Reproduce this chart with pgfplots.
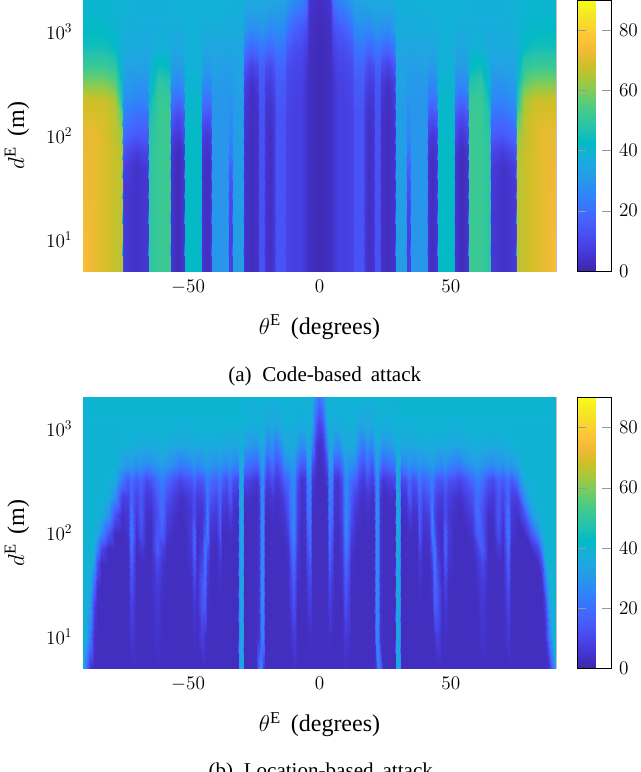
\documentclass[border=0pt]{standalone}
\usepackage[no-math]{fontspec}
\setmainfont{Liberation Serif}
\usepackage{pgfplots}
\usepackage{pgfplotstable}
\pgfplotsset{compat=1.18}

% parula, sampled from the 64 entry table
\pgfplotsset{colormap={parula}{
  rgb(0pt)=(0.2422,0.1504,0.6603); rgb(3pt)=(0.2647,0.1978,0.7952);
  rgb(6pt)=(0.2783,0.2559,0.8991); rgb(9pt)=(0.2810,0.3228,0.9579);
  rgb(12pt)=(0.2699,0.3892,0.9906); rgb(15pt)=(0.2206,0.4603,0.9973);
  rgb(18pt)=(0.1786,0.5289,0.9682); rgb(21pt)=(0.1540,0.5902,0.9218);
  rgb(24pt)=(0.1248,0.6459,0.8883); rgb(27pt)=(0.0689,0.6948,0.8394);
  rgb(30pt)=(0.0067,0.7312,0.7660); rgb(33pt)=(0.1408,0.7584,0.6842);
  rgb(36pt)=(0.2161,0.7843,0.5923); rgb(39pt)=(0.3406,0.8008,0.4789);
  rgb(42pt)=(0.5044,0.7993,0.3480); rgb(45pt)=(0.6720,0.7793,0.2227);
  rgb(48pt)=(0.8203,0.7498,0.1535); rgb(51pt)=(0.9393,0.7288,0.2100);
  rgb(54pt)=(0.9970,0.7659,0.2199); rgb(57pt)=(0.9786,0.8386,0.1766);
  rgb(60pt)=(0.9597,0.9135,0.1423); rgb(63pt)=(0.9769,0.9839,0.0805)}}

% theta (half range, both panels are mirror images about 0) against d
\pgfplotstableread{
x d5 d10 d20 d30 d50 d70 d100 d150 d220 d320 d450 d700 d1100 d2000
0    2 2 2 2 2 2 2 2 2 2 2 2 2 3
4    3 3 3 3 3 3 3 3 3 3 3 3 4 5
5.2  5 5 5 5 5 5 5 5 5 5 6 8 12 20
7    8 8 8 8 8 8 8 8 8 8 9 11 15 25
10   8 8 8 8 8 8 8 8 8 9 10 12 17 27
12.6 9 9 9 9 9 9 9 9 10 11 12 16 23 32
13.2 13 13 13 13 13 13 13 13 14 15 17 21 27 34
16.7 13 13 13 13 13 13 13 13 14 15 17 22 28 34
17.3 6 6 6 6 6 6 6 6 8 10 13 20 28 35
19   3 3 3 3 3 3 3 4 5 7 10 18 27 35
20.9 5 5 5 5 5 5 5 5 6 8 12 20 29 36
21.3 13 13 13 13 13 13 13 13 14 14 16 22 30 36
22.9 12 12 12 12 12 12 12 12 13 14 16 22 30 36
23.3 4 4 4 4 4 4 4 4 5 7 11 20 29 36
26   3 3 3 3 3 3 3 3 3 4 8 18 28 36
28.4 4 4 4 4 4 4 4 5 6 8 13 23 31 36
28.8 6 6 6 6 6 6 6 7 8 10 15 25 32 37
29.2 33 33 33 33 33 33 33 33 33 34 34 35 37 38
33   32 32 32 32 32 32 32 32 32 33 33 35 37 38
33.3 8 8 10 12 16 22 25 27 29 31 32 34 36 38
34.4 8 8 10 12 16 22 25 27 29 31 32 34 36 38
34.8 30 30 30 30 30 30 30 30 30 31 32 35 37 38
41   30 30 30 30 30 30 30 30 30 31 33 35 37 39
41.4 5 5 5 5 5 6 8 14 21 27 31 35 37 39
43   3 3 3 3 3 4 6 12 20 26 31 35 37 39
44.6 5 5 5 5 5 6 8 14 22 28 32 35 37 39
45   42 42 42 42 42 42 42 41 41 40 39 38 38 39
51   43 43 43 43 43 43 42 42 41 40 39 38 38 39
51.4 5 5 5 5 5 6 10 14 22 28 32 35 37 39
54   2 2 2 2 2 2 5 10 18 26 31 35 37 39
56.6 5 5 5 5 5 6 9 14 22 28 32 35 37 39
57   52 52 52 52 52 52 52 52 51 47 42 38 37 38
61   52 52 52 52 52 52 52 52 52 50 45 39 37 38
65   49 49 49 49 49 49 48 46 43 39 37 35 37 38
65.4 6 6 6 6 7 10 15 20 26 30 33 36 37 38
70   4 4 4 4 4 7 14 19 25 29 33 36 37 38
74.3 6 6 6 6 8 12 18 24 28 32 34 37 38 39
74.7 10 10 10 10 12 16 22 28 32 34 36 38 38 39
75.1 66 66 66 66 66 65 62 56 47 42 38 37 38 39
78   67 67 67 67 67 67 66 66 64 56 50 43 40 39
82   70 70 70 70 70 70 70 69 68 60 52 45 42 40
86   72 72 72 72 72 72 72 70 68 60 52 45 42 40
90   76 75 74 73 73 72 72 70 68 60 52 45 42 40
}\tabCode

\pgfplotstableread{
x d5 d10 d20 d30 d50 d70 d100 d150 d220 d320 d450 d700 d1100 d2000
0    3 3 3 3 3 3 3 3 3 3 3 4 8 20
1.5  3 3 3 3 3 3 3 3 3 3 4 6 14 28
3    3 3 3 3 3 3 3 3 4 6 12 24 34 38
3.8  3 4 8 10 14 18 20 22 24 26 31 36 38 39
4.6  3 3 5 6 9 11 14 18 20 24 30 35 38 39
5.5  3 3 3 3 3 3 4 4 5 6 14 29 36 39
7    3 3 3 3 3 3 3 4 4 5 14 27 36 39
8.5  3 3 3 4 5 6 7 9 10 12 20 33 37 39
9.6  4 7 12 14 18 22 25 26 26 27 32 36 38 39
10.6 3 5 10 12 16 20 24 24 25 26 31 36 38 39
12   3 3 3 3 4 5 8 12 15 19 28 36 38 39
13.5 3 3 3 3 3 3 4 5 9 16 26 35 38 39
15   3 3 3 3 3 3 3 4 5 9 16 27 35 39
16.5 3 3 3 3 3 3 3 3 4 6 12 21 34 39
18.2 3 3 3 3 3 3 3 4 6 12 20 29 36 39
20   3 3 3 3 3 3 3 3 4 7 13 25 34 39
20.9 3 3 3 3 3 3 3 4 6 12 22 31 37 39
21.4 8 26 27 27 27 27 27 27 27 27 31 36 38 39
22.1 26 22 26 26 26 26 26 26 26 26 31 36 38 39
22.9 20 5 5 5 5 5 5 5 6 10 22 33 38 39
24   3 3 3 3 3 3 3 3 3 5 16 29 37 39
26   3 3 3 3 3 3 3 3 4 8 18 31 38 39
28.6 3 3 3 3 3 3 3 3 4 10 22 33 38 39
29.1 32 32 32 32 32 32 32 32 32 32 36 38 39 40
29.8 37 36 36 36 36 36 36 36 36 36 37 38 39 40
30.5 30 28 28 28 28 28 28 28 28 28 33 37 39 40
31   3 3 3 3 3 3 3 3 5 10 24 35 39 40
33   3 3 3 3 3 3 3 4 6 12 26 35 39 40
34   3 3 3 3 3 3 4 8 15 19 29 36 39 40
35.5 3 3 3 3 3 3 3 4 7 12 26 35 39 40
37   3 3 3 3 3 3 3 5 9 16 28 36 39 40
38   3 3 3 4 6 9 14 16 18 22 30 37 39 40
39.5 3 3 3 3 3 3 4 6 10 16 28 36 39 40
41.5 3 3 3 3 3 4 5 8 14 20 30 37 39 40
42.7 3 3 4 5 8 14 24 25 23 25 32 37 39 40
43.7 3 4 15 18 22 24 16 10 12 18 30 37 39 40
44.7 3 8 14 14 10 7 5 5 8 14 28 36 39 40
46.5 3 3 3 3 3 3 3 4 7 13 26 36 39 40
47.8 3 4 6 9 14 18 18 12 12 18 29 37 39 40
49   3 3 3 3 5 6 7 6 8 13 26 36 39 40
51   3 3 3 3 3 3 3 4 5 12 24 35 39 40
53   3 3 3 3 3 3 3 3 4 9 22 35 39 40
55   3 3 3 3 3 3 3 4 7 12 26 36 39 40
58   3 3 3 3 3 3 5 8 12 18 30 37 39 40
60   3 3 3 4 5 8 16 20 20 24 32 38 39 40
62   3 5 6 7 10 16 14 12 15 20 30 37 39 40
64   3 3 3 3 3 3 3 4 7 13 28 37 39 40
66   3 3 3 3 3 3 3 4 6 10 26 36 39 40
68   3 3 3 3 3 6 12 14 14 18 30 37 39 40
70   3 3 3 3 3 3 4 6 9 14 28 37 39 40
71.7 3 6 9 12 16 20 24 22 18 20 32 38 39 40
73   3 3 3 3 3 3 5 6 8 14 30 38 39 40
75   3 3 3 3 3 3 3 4 8 22 34 39 39 40
78   3 3 3 3 3 3 3 12 28 37 39 39 39 40
80.5 3 3 3 3 3 3 14 30 37 39 39 39 39 40
83   3 3 3 3 3 10 28 37 39 39 39 39 39 40
84.5 3 3 3 4 12 26 36 39 39 39 39 39 39 40
86   3 4 8 18 32 37 39 39 39 39 39 39 39 40
87.5 5 22 33 37 39 39 39 39 39 39 39 39 39 40
88.7 22 37 38 39 39 39 39 39 39 39 39 39 39 40
90   38 39 39 39 39 39 39 39 39 39 39 39 39 40
}\tabLoc

\def\dlist{5,10,20,30,50,70,100,150,220,320,450,700,1100,2000}

% long form of a table, columns of constant theta, mirrored about 0
\newcommand{\buildmesh}[1]{%
  \gdef\meshdata{}%
  \pgfplotstablegetrowsof{#1}%
  \pgfmathtruncatemacro{\nrows}{\pgfplotsretval-1}%
  \foreach \r in {\nrows,...,1}{%
    \pgfplotstablegetelem{\r}{x}\of#1%
    \pgfmathsetmacro{\xv}{-\pgfplotsretval}%
    \foreach \d [count=\c] in \dlist{%
      \pgfplotstablegetelem{\r}{[index]\c}\of#1%
      \xdef\meshdata{\meshdata(\xv,\d)[\pgfplotsretval] }%
    }%
  }%
  \foreach \r in {0,...,\nrows}{%
    \pgfplotstablegetelem{\r}{x}\of#1%
    \edef\xv{\pgfplotsretval}%
    \foreach \d [count=\c] in \dlist{%
      \pgfplotstablegetelem{\r}{[index]\c}\of#1%
      \xdef\meshdata{\meshdata(\xv,\d)[\pgfplotsretval] }%
    }%
  }%
}

\pgfplotsset{
  heat/.style={
    width=354.75pt, height=203.25pt, scale only axis,
    xmin=-90, xmax=90, ymin=5, ymax=2000,
    xtick={-50,0,50}, ytick={10,100,1000}, minor tick num=0,
    tick style={draw=none}, axis line style={gray!50, line width=0.2pt},
    tick label style={font=\fontsize{14.4}{17}\selectfont},
    xticklabel style={yshift=-3pt},
    yticklabel style={xshift=-4.5pt},
    label style={font=\fontsize{18}{21}\selectfont},
    xlabel={$\theta^{\mbox{\fontsize{12.5}{14}\selectfont E}}$\hspace{3pt} (degrees)},
    ylabel={$d^{\mbox{\fontsize{12.5}{14}\selectfont E}}$\hspace{3pt} (m)},
    xlabel style={at={(axis description cs:0.5,-0.207)}, anchor=center},
    ylabel style={at={(axis description cs:-0.1395,0.5)}, anchor=center},
    colormap name=parula, point meta min=0, point meta max=90,
    colorbar,
    colorbar style={
      at={(1.0444,1)}, anchor=north west, width=25.5pt,
      ytick={0,20,40,60,80}, yticklabel pos=right, ytick pos=both,
      tick align=inside, major tick length=6.75pt,
      tick style={draw=gray!80, line width=0.4pt},
      axis line style={black, line width=0.5pt},
      tick label style={font=\fontsize{14.4}{17}\selectfont},
      yticklabel style={xshift=2.5pt},
    },
  },
}

\begin{document}
\begin{tikzpicture}
\path[use as bounding box, clip] (-62.25pt,-375.75pt) rectangle (417.75pt,203.25pt);

\begin{semilogyaxis}[heat]
\buildmesh{\tabCode}
\edef\doplot{\noexpand\addplot[surf, shader=interp, mesh/rows=14, mesh/ordering=y varies, point meta=explicit] coordinates {\meshdata};}
\doplot
\end{semilogyaxis}
\node[font=\fontsize{15.8}{19}\selectfont] at (181.3pt,-78.75pt) {(a)\hspace{8pt}Code-based\hspace{6.75pt}attack};

\begin{semilogyaxis}[heat, at={(0,-298.1pt)}]
\buildmesh{\tabLoc}
\edef\doplot{\noexpand\addplot[surf, shader=interp, mesh/rows=14, mesh/ordering=y varies, point meta=explicit] coordinates {\meshdata};}
\doplot
\end{semilogyaxis}
\node[font=\fontsize{15.8}{19}\selectfont] at (178.3pt,-376pt) {(b)\hspace{8pt}Location-based\hspace{6.75pt}attack};
\end{tikzpicture}
\end{document}
